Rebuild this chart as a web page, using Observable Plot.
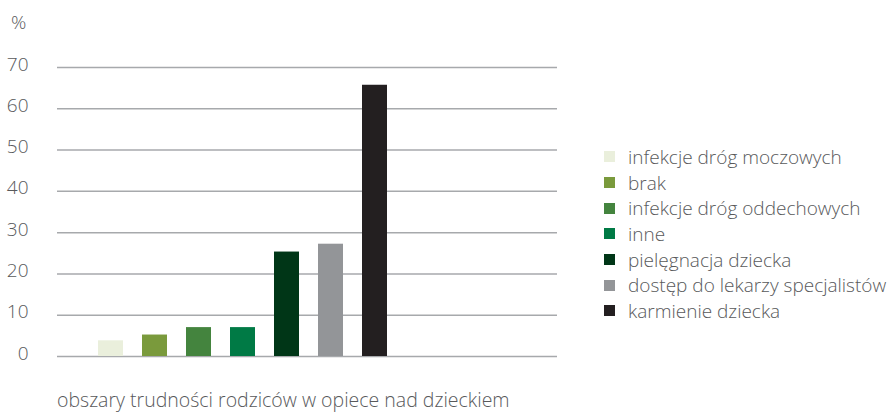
<!DOCTYPE html>
<html>
<head>
<meta charset="utf-8">
<script src="https://cdn.jsdelivr.net/npm/d3@7"></script>
<script src="https://cdn.jsdelivr.net/npm/@observablehq/plot@0.6"></script>
<style>
  html, body { margin: 0; padding: 0; background: #fff; }
  #root { position: relative; width: 890px; height: 415px; font-family: "Open Sans", sans-serif; font-weight: 300; color: #58595b; overflow: hidden; }
  #chart { position: absolute; left: 0; top: 0; }
  #unit { position: absolute; left: 11px; top: 9px; font-size: 19px; line-height: 26px; }
  #legend { position: absolute; left: 604px; top: 144px; font-size: 19px; }
  .row { height: 25.7px; display: flex; align-items: center; white-space: nowrap; }
  .sw { width: 11px; height: 11px; margin-right: 13px; flex: none; }
  #caption { position: absolute; left: 57px; top: 387px; font-size: 19.5px; line-height: 26px; white-space: nowrap; }
</style>
</head>
<body>
<div id="root">
  <div id="chart"></div>
  <div id="unit"></div>
  <div id="legend"></div>
  <div id="caption"></div>
</div>
<script>
const categories = [
  "infekcje dróg moczowych",
  "brak",
  "infekcje dróg oddechowych",
  "inne",
  "pielęgnacja dziecka",
  "dostęp do lekarzy specjalistów",
  "karmienie dziecka"
];
const values = [3.8, 5.2, 7.0, 7.0, 25.3, 27.2, 65.7];
const colors = ["#eaefdc", "#7a9a3c", "#44843e", "#007a45", "#003617", "#939598", "#231f20"];
const yTicks = [0, 10, 20, 30, 40, 50, 60, 70];
const unitLabel = "%";
const captionText = "obszary trudności rodziców w opiece nad dzieckiem";

const data = categories.map((c, i) => ({cat: c, value: values[i]}));

const chart = Plot.plot({
  width: 570,
  height: 380,
  marginLeft: 57,
  marginRight: 13,
  marginTop: 67,
  marginBottom: 24,
  style: {fontFamily: "'Open Sans', sans-serif", fontWeight: 300, fontSize: "19px", color: "#58595b", background: "#fff"},
  x: {domain: categories, range: [98, 387], paddingInner: 0.432, paddingOuter: 0, axis: null},
  y: {domain: [0, 70], axis: null},
  color: {domain: categories, range: colors},
  marks: [
    Plot.ruleY(yTicks, {stroke: "#a7a9ac", strokeWidth: 1.5}),
    Plot.barY(data, {x: "cat", y: "value", fill: "cat", inset: 0}),
    Plot.axisY(yTicks, {tickSize: 0, tickPadding: 29, dy: -3, fill: "#58595b", fontSize: 19, fontWeight: 300, label: null})
  ]
});
document.getElementById("chart").appendChild(chart);

document.getElementById("unit").textContent = unitLabel;
document.getElementById("caption").textContent = captionText;

const legend = document.getElementById("legend");
categories.forEach((c, i) => {
  const row = document.createElement("div");
  row.className = "row";
  const sw = document.createElement("span");
  sw.className = "sw";
  sw.style.background = colors[i];
  const t = document.createElement("span");
  t.textContent = c;
  row.appendChild(sw);
  row.appendChild(t);
  legend.appendChild(row);
});
</script>
</body>
</html>
